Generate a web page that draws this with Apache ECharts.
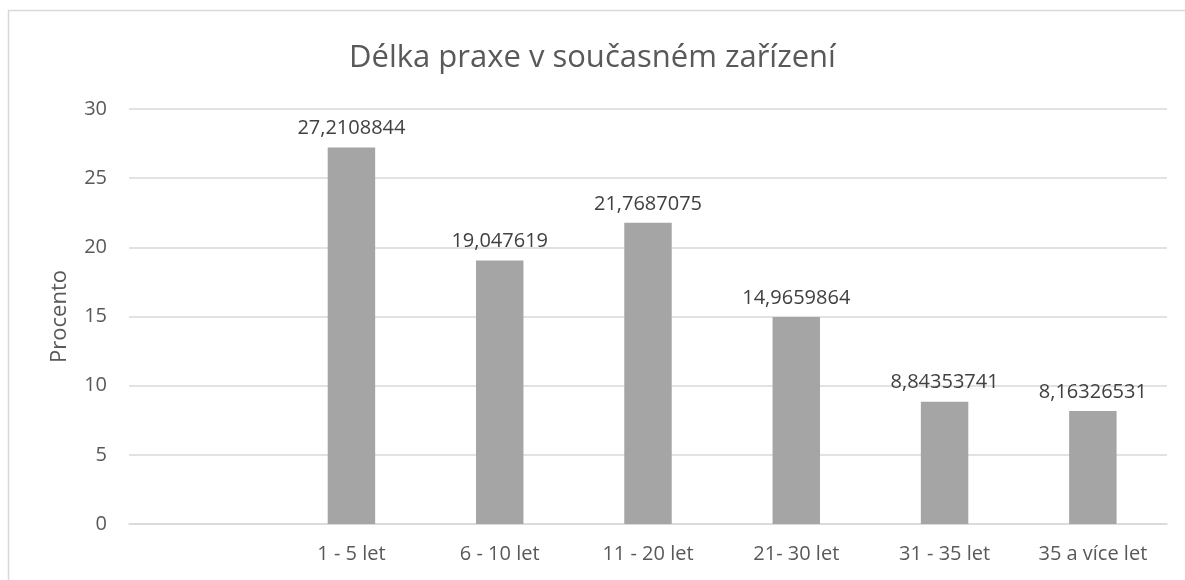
<!DOCTYPE html>
<html>
<head>
<meta charset="utf-8">
<script src="https://cdn.jsdelivr.net/npm/echarts@6/dist/echarts.min.js"></script>
<style>
  html, body { margin: 0; padding: 0; background: #fff; }
  #chart { width: 1185px; height: 580px; }
</style>
</head>
<body>
<div id="chart"></div>
<script>
// kategorie (první je prázdná, jako v originále)
const categories = ["", "1 - 5 let", "6 - 10 let", "11 - 20 let", "21- 30 let", "31 - 35 let", "35 a více let"];
const percent = [null, 27.2108844, 19.047619, 21.7687075, 14.9659864, 8.84353741, 8.16326531];
const yTicks = [0, 5, 10, 15, 20, 25, 30];

const font = "'Open Sans', 'Noto Sans', sans-serif";
const chart = echarts.init(document.getElementById("chart"));

chart.setOption({
  backgroundColor: "#fff",
  animation: false,
  title: {
    text: "Délka praxe v současném zařízení",
    left: "center",
    top: 38,
    textStyle: { color: "#595959", fontFamily: font, fontSize: 31, fontWeight: "normal" }
  },
  graphic: [{
    type: "rect",
    shape: { x: 8.5, y: 10.5, width: 1200, height: 600 },
    style: { fill: "none", stroke: "#D9D9D9", lineWidth: 1.5 },
    silent: true
  }],
  grid: { left: 129, right: 18, top: 109, bottom: 56, containLabel: false },
  xAxis: {
    type: "category",
    data: categories,
    axisLine: { lineStyle: { color: "#D9D9D9", width: 1.5 } },
    axisTick: { show: false },
    axisLabel: { color: "#595959", fontFamily: font, fontSize: 20, margin: 20, interval: 0 }
  },
  yAxis: {
    type: "value",
    min: yTicks[0],
    max: yTicks[yTicks.length - 1],
    interval: 5,
    name: "Procento",
    nameLocation: "middle",
    nameGap: 58,
    nameRotate: 90,
    nameTextStyle: { color: "#595959", fontFamily: font, fontSize: 22 },
    axisLine: { show: false },
    axisTick: { show: false },
    axisLabel: { color: "#595959", fontFamily: font, fontSize: 20, margin: 22 },
    splitLine: { lineStyle: { color: "#D9D9D9", width: 1.5 } }
  },
  series: [{
    type: "bar",
    data: percent,
    barWidth: "32%",
    itemStyle: { color: "#A5A5A5" },
    label: {
      show: true,
      position: "top",
      distance: 9,
      color: "#404040",
      fontFamily: font,
      fontSize: 20,
      formatter: p => String(p.value).replace(".", ",")
    }
  }]
});
</script>
</body>
</html>
